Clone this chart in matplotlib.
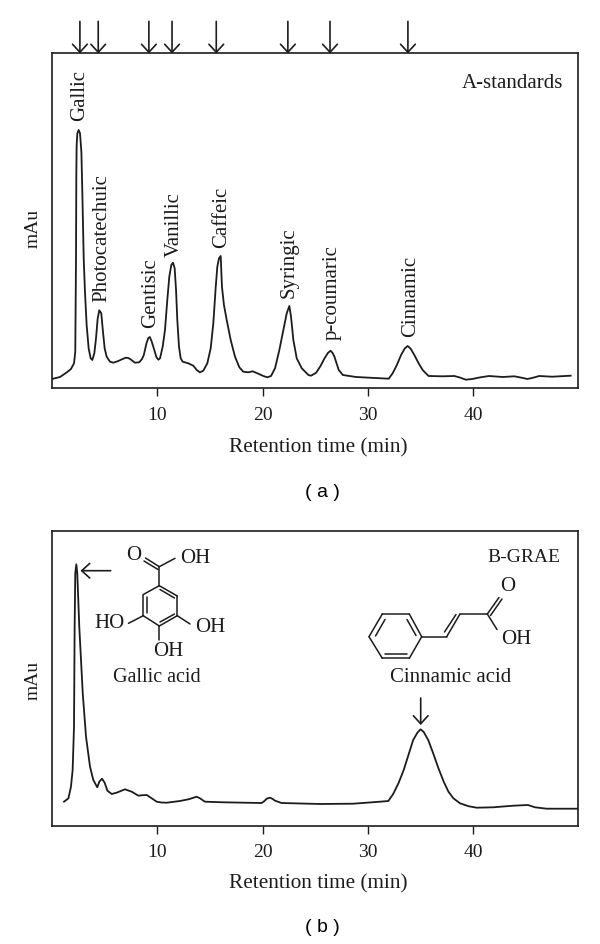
import matplotlib
matplotlib.use('Agg')
import matplotlib.pyplot as plt
from matplotlib.lines import Line2D
from matplotlib.patches import FancyArrowPatch

# Chromatogram A, time in min and signal as height above the axis
time_a = [0, 0.76, 1.39, 1.8, 2.09, 2.21, 2.28, 2.31, 2.34, 2.41, 2.53, 2.66, 2.79, 2.88, 3.01, 3.13, 3.29, 3.48,
          3.67, 3.83, 4.02, 4.18, 4.34, 4.49, 4.68, 4.84, 5.0, 5.19, 5.51, 5.82, 6.3, 6.7, 7.01, 7.25, 7.46,
          7.87, 8.28, 8.55, 8.72, 8.97, 9.15, 9.29, 9.45, 9.6, 9.92, 10.1, 10.26, 10.51, 10.73, 10.95, 11.14,
          11.33, 11.49, 11.65, 11.78, 11.9, 12.06, 12.22, 12.41, 12.94, 13.42, 13.74, 14.05, 14.37, 14.75,
          15.07, 15.32, 15.55, 15.7, 15.86, 16.02, 16.14, 16.33, 16.59, 16.97, 17.38, 17.79, 18.17, 18.64,
          19.06, 19.59, 20.07, 20.45, 20.8, 21.18, 21.59, 21.97, 22.29, 22.54, 22.7, 22.92, 23.24, 23.72,
          24.35, 24.6, 25.09, 25.5, 25.88, 26.2, 26.45, 26.65, 26.82, 27.23, 27.62, 28.88, 30.78, 31.98,
          32.35, 32.75, 33.15, 33.5, 33.77, 34.05, 34.41, 34.8, 35.2, 35.76, 37.09, 38.2, 38.67, 39.3, 39.9,
          40.7, 41.5, 42.8, 43.9, 44.5, 45.15, 45.7, 46.26, 47.5, 49.26]
signal_a = [9, 11, 15.5, 19, 24.7, 36, 129.7, 213, 243, 254.7, 258, 254.7, 236.3, 196, 129.7, 96.3, 63, 39.7,
            29.7, 28, 34.7, 49.7, 69.7, 77.7, 74.7, 56.3, 39.7, 31.3, 26.3, 25.3, 27, 29, 30.3, 30, 28.7,
            25.3, 25.7, 29, 33, 44.7, 50, 51, 47, 42, 30.7, 28.3, 29.7, 41.3, 58, 88, 111.3,
            123, 125.3, 119.7, 98, 68, 41.3, 29.7, 26.3, 24.7, 22.3, 18, 15.7, 17.3, 24.7,
            39.7, 64.7, 101.3, 121.3, 129.7, 132, 101.3, 83, 68, 48, 31.3, 20.7, 16.3, 15.7,
            16.7, 14.3, 12, 10.7, 12, 19.7, 38, 58, 74.7, 82, 71.3, 48, 29.7, 19.7,
            13, 12.3, 15.3, 22, 29.7, 35, 37.3, 35, 31.3, 18, 13, 11, 10, 9.3,
            14.7, 23, 33, 39.5, 42, 39.5, 33, 25, 18, 12, 11.7, 12, 10.7, 8.3, 9,
            10.7, 12, 11, 11.7, 10.5, 9, 10.3, 12, 11.3, 12.3]

# Chromatogram B
time_b = [1.14, 1.56, 1.8, 1.96, 2.09, 2.15, 2.21, 2.31, 2.4, 2.59, 2.92, 3.23, 3.61, 3.92, 4.3, 4.49, 4.75,
          5.0, 5.26, 5.67, 6.14, 6.93, 7.57, 8.2, 8.6, 9, 9.47, 9.94, 10.4, 10.89, 12.15, 13, 13.74, 14.05,
          14.53, 16.27, 19.91, 20.15, 20.39, 20.7, 20.95, 21.18, 21.8, 25.45, 28.6, 31.15, 31.94, 32.4, 32.9,
          33.4, 33.85, 34.3, 34.7, 35.0, 35.3, 35.73, 36.2, 36.7, 37.2, 37.65, 38.12, 38.75, 39.55, 40.33,
          41.9, 43.8, 45.2, 45.87, 46.98, 49.9]
signal_b = [24, 27.4, 39, 55.7, 99, 199, 252.4, 261.4, 252.4, 199, 132.4, 89, 59, 45.7, 38.4, 44, 47,
            43, 35, 31.7, 33, 36.4, 34, 30, 30.5, 30.7, 27.4, 24, 23.2, 23, 24.7, 26.5, 29, 27.4,
            24, 23.4, 22.7, 24.5, 27, 28, 26.8, 25, 22.7, 21.7, 22, 24, 24.7, 31.7, 42.4,
            55.7, 70.7, 85.7, 93, 96.4, 93.7, 85.7, 72.4, 57.4, 44, 34, 27.4, 22.4, 19.5, 18,
            18.4, 20, 20.7, 18.4, 17, 17]

peak_names = ['Gallic', 'Photocatechuic', 'Gentisic', 'Vanillic', 'Caffeic', 'Syringic', 'p-coumaric', 'Cinnamic']
label_times = [2.65, 4.75, 9.4, 11.6, 16.1, 22.55, 26.6, 34.05]
label_heights = [267, 86, 60, 131, 140, 90, 48, 51]
arrow_times = [2.65, 4.39, 9.2, 11.4, 15.6, 22.4, 26.4, 33.8]
x_ticks = [10, 20, 30, 40]

W, H = 600, 944
INK = '#1c1c1c'
plt.rcParams['font.family'] = ['Liberation Serif', 'DejaVu Serif']
plt.rcParams['text.color'] = INK
FS = 15

fig = plt.figure(figsize=(6, 9.44), dpi=100)


def fx(x):
    return x / W


def fy(y):
    return 1 - y / H


def make_axes(left, top, right, bottom):
    ax = fig.add_axes([fx(left), fy(bottom), (right - left) / W, (bottom - top) / H])
    ax.set_xlim(0, (right - left) / 10.53)
    ax.set_ylim(0, bottom - top)
    ax.set_yticks([])
    ax.set_xticks(x_ticks)
    ax.tick_params(axis='x', length=5.5, width=1.0, color=INK, labelcolor=INK, labelsize=14, pad=8)
    for s in ax.spines.values():
        s.set_linewidth(1.2)
        s.set_color(INK)
    ax.set_xlabel('Retention time (min)', fontsize=15.3, color=INK, va='center')
    ax.set_ylabel('mAu', fontsize=14, color=INK)
    return ax


def bonds(*segs, lw=1.1):
    for x1, y1, x2, y2 in segs:
        fig.add_artist(Line2D([fx(x1), fx(x2)], [fy(y1), fy(y2)], color=INK, lw=lw,
                              transform=fig.transFigure, solid_capstyle='round'))


def arrow(x1, y1, x2, y2):
    fig.add_artist(FancyArrowPatch(
        (fx(x1), fy(y1)), (fx(x2), fy(y2)), transform=fig.transFigure,
        arrowstyle='->,head_length=3.6,head_width=3.3',
        mutation_scale=1.6, color=INK, lw=1.2, shrinkA=0, shrinkB=0))


def label(x, y, s, fs=FS):
    fig.text(fx(x), fy(y), s, fontsize=fs, ha='center', va='center')


# Panel a
ax1 = make_axes(52, 53.5, 578, 388)
ax1.plot(time_a, signal_a, color=INK, lw=1.3, solid_joinstyle='round')
ax1.yaxis.set_label_coords(-0.020, 0.478)
ax1.xaxis.set_label_coords(0.506, -0.178)
for name, t, h in zip(peak_names, label_times, label_heights):
    ax1.text(t, h, name, rotation=90, fontsize=FS, ha='center', va='bottom')
for t in arrow_times:
    ax1.annotate('', xy=(t, 1.0), xytext=(t, 1.096), xycoords=ax1.get_xaxis_transform(),
                 textcoords=ax1.get_xaxis_transform(),
                 arrowprops=dict(arrowstyle='->,head_length=0.36,head_width=0.33', color=INK, lw=1.2,
                                 shrinkA=0, shrinkB=0, mutation_scale=16))
label(512, 84, 'A-standards')
fig.text(fx(322), fy(492), '( a )', fontsize=14, family='Liberation Sans', ha='center', va='center', color='black')

# Panel b
ax2 = make_axes(52, 531, 578, 825.7)
ax2.plot(time_b, signal_b, color=INK, lw=1.3, solid_joinstyle='round')
ax2.yaxis.set_label_coords(-0.020, 0.494)
ax2.xaxis.set_label_coords(0.506, -0.197)
label(524, 557.5, 'B-GRAE', 14)
fig.text(fx(322), fy(928), '( b )', fontsize=14, family='Liberation Sans', ha='center', va='center', color='black')
arrow(110.7, 570.7, 80.5, 570.7)
arrow(420.7, 698, 420.7, 725)

# Gallic acid structure
bonds((159.3, 585.7, 177.3, 596), (177.3, 596, 177.3, 615.7), (177.3, 615.7, 159.3, 626),
      (159.3, 626, 143.3, 615.7), (143.3, 615.7, 143.3, 594.5), (143.3, 594.5, 159.3, 585.7),
      (146.5, 597, 146.5, 613), (160, 589.5, 174.5, 598), (160, 622, 174.5, 614),
      (159.3, 585.7, 159.3, 566.7), (159.3, 566.7, 175, 558.3),
      (159.3, 566.7, 145.5, 558), (158, 569.5, 144, 561),
      (143.3, 615.7, 128.5, 623.3), (177.3, 615.7, 190, 624), (159.3, 626, 159.3, 640))
label(134, 556, 'O')
label(195.5, 558.5, 'OH')
label(109.5, 623.5, 'HO')
label(210, 627, 'OH')
label(168.5, 651, 'OH')
label(156.7, 677, 'Gallic acid', 14.5)

# Cinnamic acid structure
bonds((369, 636.7, 382.3, 614), (382.3, 614, 409.3, 614), (409.3, 614, 421.7, 636.7),
      (421.7, 636.7, 409.3, 658.3), (409.3, 658.3, 382.3, 658.3), (382.3, 658.3, 369, 636.7),
      (375.5, 636, 385, 619.5), (407, 619.5, 416, 635.5), (385, 654, 407, 654),
      (421.7, 636.7, 446.7, 636.7), (446.7, 636.7, 460, 614), (460, 614, 487.3, 614),
      (444.5, 632, 456, 614.5), (487.3, 614, 497, 629.5),
      (487.3, 614, 499, 597.5), (490.5, 615.5, 502, 599))
label(507.7, 586.5, 'O')
label(516, 639.5, 'OH')
label(451, 677, 'Cinnamic acid')

plt.savefig('out.png', dpi=100)
